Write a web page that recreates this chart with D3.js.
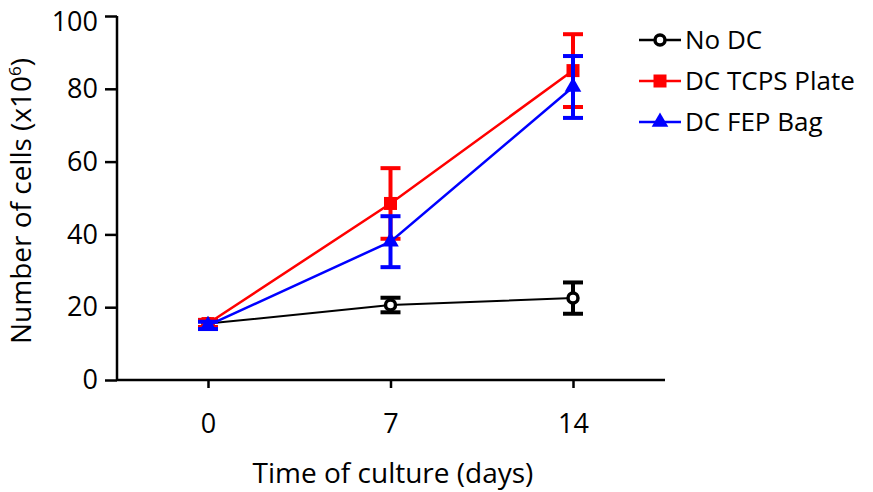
<!DOCTYPE html>
<html>
<head>
<meta charset="utf-8">
<script src="https://cdn.jsdelivr.net/npm/d3@7"></script>
<style>
  body { margin: 0; background: #fff; }
  text { font-family: "Open Sans", "Noto Sans", sans-serif; fill: #000; }
</style>
</head>
<body>
<svg id="chart" width="873" height="492"></svg>
<script>
// Data
var days = [0, 7, 14];
var xTicks = [0, 7, 14];
var yTicks = [0, 20, 40, 60, 80, 100];

var noDC = [15.5, 20.6, 22.5];
var noDCErr = [1.0, 2.0, 4.3];
var tcps = [15.5, 48.5, 85];
var tcpsErr = [1.0, 9.7, 10];
var fep = [15, 38, 80.5];
var fepErr = [1.0, 7, 8.5];

var seriesNames = ["No DC", "DC TCPS Plate", "DC FEP Bag"];
var seriesColors = ["#000000", "#ff0000", "#0000ff"];

var series = [
    {name: seriesNames[0], values: noDC, err: noDCErr, color: seriesColors[0], shape: "circle"},
    {name: seriesNames[1], values: tcps, err: tcpsErr, color: seriesColors[1], shape: "square"},
    {name: seriesNames[2], values: fep, err: fepErr, color: seriesColors[2], shape: "triangle"}
];

var svg = d3.select("#chart");

// Scales
var x = d3.scaleLinear().domain([0, 7]).range([208, 390.5]);
var y = d3.scaleLinear().domain([0, 100]).range([380, 16]);

// Axes
var yAxis = svg.append("g")
    .attr("transform", "translate(117,0)")
    .call(d3.axisLeft(y).tickValues(yTicks).tickFormat(d3.format("d"))
        .tickSize(12).tickPadding(7));
var xAxis = svg.append("g")
    .attr("transform", "translate(0,380)")
    .call(d3.axisBottom(x).tickValues(xTicks).tickFormat(d3.format("d"))
        .tickSize(8).tickPadding(26).tickSizeOuter(0));

xAxis.select(".domain").attr("d", "M117,0H665");
yAxis.select(".domain").attr("d", "M0," + y(100) + "V" + (y(0) + 1));

[xAxis, yAxis].forEach(function (ax) {
    ax.selectAll(".domain").attr("stroke", "#000").attr("stroke-width", 2.5);
    ax.selectAll(".tick line").attr("stroke", "#000").attr("stroke-width", 2.5);
    ax.selectAll("text").style("font-size", "27px").attr("fill", "#000");
});
// keep the top label inside the picture
yAxis.selectAll(".tick text").filter(function (d) { return d === 100; }).attr("dy", "0.55em");

// Axis titles
svg.append("text")
    .attr("x", 393).attr("y", 483)
    .attr("text-anchor", "middle")
    .style("font-size", "28px")
    .text("Time of culture (days)");

var yTitle = svg.append("text")
    .attr("transform", "translate(31,201) rotate(-90)")
    .attr("text-anchor", "middle")
    .style("font-size", "28px");
yTitle.append("tspan").text("Number of cells (x10");
yTitle.append("tspan").attr("dy", -10).style("font-size", "17px").text("6");
yTitle.append("tspan").attr("dy", 10).text(")");

// Marker drawing
var drawMarker = function (g, shape, color) {
    if (shape === "circle") {
        g.append("circle").attr("r", 5).attr("fill", "#fff")
            .attr("stroke", color).attr("stroke-width", 3.5);
    } else if (shape === "square") {
        g.append("rect").attr("x", -6.5).attr("y", -6.5).attr("width", 13).attr("height", 13)
            .attr("fill", color);
    } else {
        g.append("path").attr("d", d3.symbol().type(d3.symbolTriangle).size(120)())
            .attr("fill", color);
    }
};

var line = d3.line()
    .x(function (d, i) { return x(days[i]); })
    .y(function (d) { return y(d); });

// Draw lines, error bars, markers per series
series.forEach(function (s) {
    var g = svg.append("g");
    g.append("path")
        .datum(s.values)
        .attr("d", line)
        .attr("fill", "none")
        .attr("stroke", s.color)
        .attr("stroke-width", s.shape === "circle" ? 2 : 2.5);

    s.values.forEach(function (v, i) {
        var cx = x(days[i]);
        var top = y(v + s.err[i]), bot = y(v - s.err[i]);
        g.append("line").attr("x1", cx).attr("x2", cx).attr("y1", top).attr("y2", bot)
            .attr("stroke", s.color).attr("stroke-width", 4);
        [top, bot].forEach(function (cy) {
            g.append("line").attr("x1", cx - 10).attr("x2", cx + 10).attr("y1", cy).attr("y2", cy)
                .attr("stroke", s.color).attr("stroke-width", 4);
        });
        var m = g.append("g").attr("transform", "translate(" + cx + "," + y(v) + ")");
        drawMarker(m, s.shape, s.color);
    });
});

// Legend
var legend = svg.append("g").attr("transform", "translate(639,0)");
var legendY = [40, 81, 122];
series.forEach(function (s, i) {
    var row = legend.append("g").attr("transform", "translate(0," + legendY[i] + ")");
    row.append("line").attr("x1", 0).attr("x2", 42).attr("y1", 0).attr("y2", 0)
        .attr("stroke", s.color).attr("stroke-width", 2.5);
    var m = row.append("g").attr("transform", "translate(21,0)");
    drawMarker(m, s.shape, s.color);
    row.append("text").attr("x", 46).attr("y", 0).attr("dy", "0.36em")
        .style("font-size", "26px").text(s.name);
});
</script>
</body>
</html>
